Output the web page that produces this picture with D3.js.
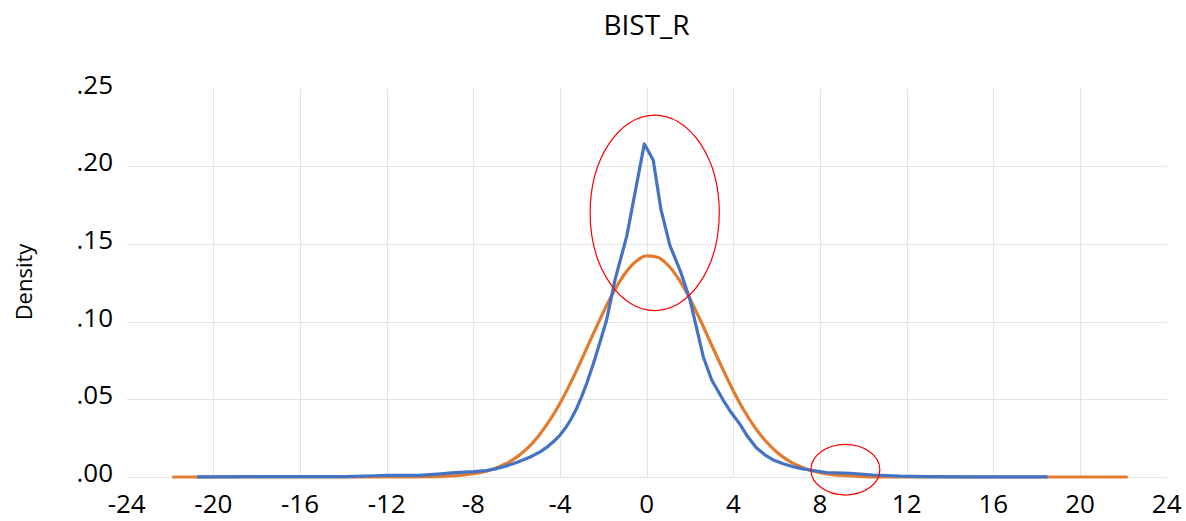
<!DOCTYPE html>
<html>
<head>
<meta charset="utf-8">
<script src="https://cdn.jsdelivr.net/npm/d3@7"></script>
<style>
  html, body { margin: 0; padding: 0; background: #ffffff; }
  svg { display: block; }
  text { font-family: "Open Sans", "Noto Sans", sans-serif; fill: #000; }
</style>
</head>
<body>
<svg id="chart" width="1186" height="521"></svg>
<script>
// Kernel density of BIST_R returns (x, density)
const kernelX = [-20.75, -18, -16, -14, -12.5, -12, -11, -10.5, -9.5, -9, -8, -7.4, -7.0, -6.6, -6, -5.4, -4.9, -4.6, -4.3, -4, -3.75, -3.5, -3.25, -3,
  -2.75, -2.46, -2.15, -1.85, -1.46, -0.92, -0.11, 0.30, 0.66, 1.07, 1.54, 2.0, 2.61, 3.0, 3.53, 3.9, 4.3, 4.65, 5.05, 5.45, 5.84, 6.3, 6.76, 7.15, 7.53, 8.3, 9.4,
  10.45, 11.7, 13, 15, 18.5];
const kernelY = [0.0001, 0.0002, 0.0003, 0.0002, 0.0008, 0.0011, 0.0010, 0.0010, 0.0020, 0.0026, 0.0034, 0.0042, 0.0052, 0.0066, 0.0093, 0.0127, 0.0163, 0.0192, 0.0228, 0.0270, 0.0315, 0.0370, 0.0437, 0.0517,
  0.0610, 0.0730, 0.0870, 0.1010, 0.1270, 0.1550, 0.2143, 0.2040, 0.1720, 0.1490, 0.1330, 0.1140, 0.0774, 0.0624, 0.0495, 0.0415, 0.0340, 0.0262, 0.0190, 0.0143, 0.0110, 0.0085, 0.0066, 0.0054, 0.0045, 0.0029, 0.0024,
  0.0013, 0.0006, 0.0003, 0.0001, 0.0001];

// Fitted normal density (x, density)
const normalX = [-21.9, -15, -12, -11, -10, -9, -8, -7.5, -7, -6.5, -6, -5.5, -5, -4.5, -4, -3.5, -3, -2.5, -2, -1.5, -1, -0.5,
  0, 0.5, 1, 1.5, 2, 2.5, 3, 3.5, 4, 4.5, 5, 5.5, 6, 6.5, 7, 7.5, 8, 9, 10, 11, 12, 15, 22.2];
const normalY = [0, 0, 0, 0.0001, 0.0002, 0.0007, 0.0021, 0.0034, 0.0055, 0.0085, 0.0128, 0.0186, 0.0263, 0.0359, 0.0475, 0.0609, 0.0757, 0.0911, 0.1061, 0.1198, 0.1310, 0.1387,
  0.1423, 0.1414, 0.1361, 0.1269, 0.1146, 0.1002, 0.0849, 0.0697, 0.0554, 0.0426, 0.0318, 0.0230, 0.0161, 0.0109, 0.0072, 0.0045, 0.0028, 0.0010, 0.0003, 0.0001, 0, 0, 0];

// Axis ticks
const xTicks = [-24, -20, -16, -12, -8, -4, 0, 4, 8, 12, 16, 20, 24];
const yTicks = [0, 0.05, 0.10, 0.15, 0.20, 0.25];

// Highlight ellipses: centre (x, y) and radii in data units
const markCx = [0.37, 9.17];
const markCy = [0.170, 0.0047];
const markRx = [2.98, 1.59];
const markRy = [0.0629, 0.0163];

const title = "BIST_R";
const yLabel = "Density";

const svg = d3.select("#chart");

const x = d3.scaleLinear().domain([-24, 24]).range([126.7, 1166.7]);
const y = d3.scaleLinear().domain([0, 0.25]).range([477, 88.5]);

const grid = svg.append("g").attr("stroke", "#e4e4e4").attr("stroke-width", 1);

// vertical gridlines (inner ticks only)
grid.selectAll("line.v")
  .data(xTicks.filter(t => t > -24 && t < 24))
  .join("line")
  .attr("x1", d => Math.round(x(d)) + 0.5)
  .attr("x2", d => Math.round(x(d)) + 0.5)
  .attr("y1", y(0.25))
  .attr("y2", y(0));

// horizontal gridlines
grid.selectAll("line.h")
  .data(yTicks.filter(t => t < 0.25))
  .join("line")
  .attr("x1", x(-24))
  .attr("x2", x(24))
  .attr("y1", d => Math.round(y(d)) + 0.5)
  .attr("y2", d => Math.round(y(d)) + 0.5);

// y tick labels
const fmtY = v => d3.format(".2f")(v).replace(/^0/, "");
svg.append("g").selectAll("text")
  .data(yTicks)
  .join("text")
  .attr("x", 113)
  .attr("y", d => y(d) + 5)
  .attr("text-anchor", "end")
  .attr("font-size", 26)
  .text(fmtY);

// x tick labels
svg.append("g").selectAll("text")
  .data(xTicks)
  .join("text")
  .attr("x", d => x(d))
  .attr("y", 513)
  .attr("text-anchor", "middle")
  .attr("font-size", 26)
  .text(d => String(d));

// title
svg.append("text")
  .attr("x", 646.5)
  .attr("y", 35)
  .attr("text-anchor", "middle")
  .attr("font-size", 28)
  .text(title);

// y axis label
svg.append("text")
  .attr("transform", "translate(32,282) rotate(-90)")
  .attr("text-anchor", "middle")
  .attr("font-size", 22)
  .text(yLabel);

// curves
const normalPts = normalX.map((v, i) => [v, normalY[i]]);
const kernelPts = kernelX.map((v, i) => [v, kernelY[i]]);

svg.append("path")
  .datum(normalPts)
  .attr("fill", "none")
  .attr("stroke", "#E07B2F")
  .attr("stroke-width", 3.2)
  .attr("stroke-linejoin", "round")
  .attr("d", d3.line().x(d => x(d[0])).y(d => y(d[1])).curve(d3.curveMonotoneX));

svg.append("path")
  .datum(kernelPts)
  .attr("fill", "none")
  .attr("stroke", "#4472C4")
  .attr("stroke-width", 3.2)
  .attr("stroke-linejoin", "round")
  .attr("d", d3.line().x(d => x(d[0])).y(d => y(d[1])).curve(d3.curveLinear));

// highlight ellipses
svg.append("g").selectAll("ellipse")
  .data(markCx.map((c, i) => i))
  .join("ellipse")
  .attr("cx", i => x(markCx[i]))
  .attr("cy", i => y(markCy[i]))
  .attr("rx", i => x(markRx[i]) - x(0))
  .attr("ry", i => y(0) - y(markRy[i]))
  .attr("fill", "none")
  .attr("stroke", "#ff0000")
  .attr("stroke-width", 1.2);
</script>
</body>
</html>
